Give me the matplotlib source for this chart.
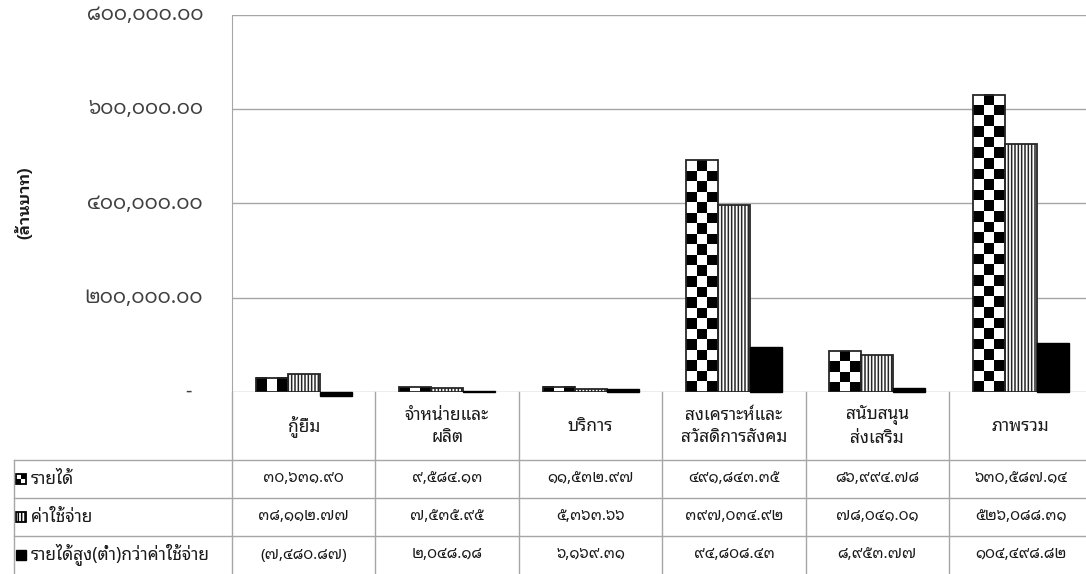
import numpy as np
import matplotlib
matplotlib.use("Agg")
import matplotlib.pyplot as plt
import matplotlib.transforms as mtrans

plt.rcParams['font.family'] = ['Noto Sans Thai Looped', 'DejaVu Sans']
plt.rcParams['hatch.linewidth'] = 1.1

categories = ['กู้ยืม', 'จำหน่ายและ\nผลิต', 'บริการ', 'สงเคราะห์และ\nสวัสดิการสังคม', 'สนับสนุน\nส่งเสริม', 'ภาพรวม']
series_names = ['รายได้', 'ค่าใช้จ่าย', 'รายได้สูง(ต่ำ)กว่าค่าใช้จ่าย']
income = [30631.90, 9584.13, 11532.97, 491843.35, 86994.78, 630587.14]
expense = [38112.77, 7535.95, 5363.66, 397034.92, 78041.01, 526088.31]
net = [-7480.87, 2048.18, 6169.31, 94808.43, 8953.77, 104498.82]
yticks = [0, 200000, 400000, 600000, 800000]

THAI_DIGITS = str.maketrans('0123456789', '๐๑๒๓๔๕๖๗๘๙')


def thai_num(v):
    s = '{:,.2f}'.format(abs(v)).translate(THAI_DIGITS)
    return '(' + s + ')' if v < 0 else s


W, H = 1086, 574
fig = plt.figure(figsize=(W / 100, H / 100), dpi=100)

# plot area in pixels
left, top, zero_y = 232, 15, 392
col_w = 143.4
ax = fig.add_axes([left / W, 1 - zero_y / H, col_w * 6 / W, (zero_y - top) / H])

grid_c = '#a6a6a6'
edge_c = '#262626'
x = np.arange(len(categories))
bw = 32 / col_w

# income bars with checker fill
px_per_unit = (zero_y - top) / 800000.0
for xi, v in zip(x, income):
    x0 = xi - bw * 1.5
    nrows = max(1, int(round(v * px_per_unit / 10.7)))
    board = (np.add.outer(np.arange(nrows), np.arange(3)) % 2).astype(float)
    ax.imshow(board, cmap='gray', vmin=0, vmax=1, interpolation='nearest',
              extent=(x0, x0 + bw, 0, v), aspect='auto', zorder=2, origin='lower')
ax.bar(x - bw, income, bw, facecolor='none', edgecolor=edge_c, linewidth=1.3, zorder=3)

# expense bars striped
ax.bar(x, expense, bw, facecolor='white', edgecolor=edge_c, hatch='|||||', linewidth=1.3, zorder=3)

# net bars solid
nb = ax.bar(x + bw, net, bw, facecolor='black', edgecolor='black', linewidth=1, zorder=3)
for p in nb:
    p.set_clip_on(False)

ax.set_xlim(-0.5, len(categories) - 0.5)
ax.set_ylim(0, 800000)
ax.set_yticks(yticks)
ax.yaxis.grid(True, color=grid_c, linewidth=1)
ax.set_axisbelow(True)
ax.set_xticks([])
ax.tick_params(axis='y', length=0, labelleft=False)
for s in ['top', 'right', 'bottom']:
    ax.spines[s].set_visible(False)
ax.spines['left'].set_color(grid_c)

# y tick labels
tr = mtrans.blended_transform_factory(fig.transFigure, ax.transData)
for t in yticks:
    lab = '-' if t == 0 else '{:,.2f}'.format(t).translate(THAI_DIGITS)
    xoff = 192 if t == 0 else 203
    ax.text(xoff / W, t, lab, transform=tr, ha='right', va='center',
            fontsize=14.5, color='#404040')

fig.text(23 / W, 1 - 203 / H, '(ล้านบาท)', rotation=90, ha='center', va='center',
         fontsize=11.5, fontweight='bold', color='#1a1a1a',
         family=['IBM Plex Sans Thai Looped', 'DejaVu Sans'])

# data table overlay (pixel coords)
ov = fig.add_axes([0, 0, 1, 1], zorder=5)
ov.set_xlim(0, W)
ov.set_ylim(H, 0)
ov.axis('off')

row_lines = [460, 498, 536]
col_edges = [left + col_w * k for k in range(len(categories) + 1)]
for y in row_lines:
    ov.plot([14, W], [y, y], color=grid_c, linewidth=1)
for cx in col_edges:
    ov.plot([cx, cx], [zero_y, H], color=grid_c, linewidth=1)
ov.plot([14, 14], [row_lines[0], H], color=grid_c, linewidth=1)

for k, c in enumerate(categories):
    cx = left + col_w * (k + 0.5)
    ov.text(cx, (zero_y + row_lines[0]) / 2, c, ha='center', va='center',
            fontsize=12.5, linespacing=1.25, color='#1a1a1a')

row_centers = [(row_lines[0] + row_lines[1]) / 2, (row_lines[1] + row_lines[2]) / 2,
               (row_lines[2] + H) / 2]
for r, (name, vals) in enumerate(zip(series_names, [income, expense, net])):
    cy = row_centers[r]
    ov.text(31, cy, name, ha='left', va='center', fontsize=12.5, color='#1a1a1a')
    for k, v in enumerate(vals):
        ov.text(left + col_w * (k + 0.5), cy, thai_num(v), ha='center', va='center',
                fontsize=11, color='#1a1a1a')

# legend keys
k0, ks = 16, 10
cy = row_centers[0]
ov.imshow(np.array([[1, 0], [0, 1.0]]), cmap='gray', vmin=0, vmax=1, interpolation='nearest',
          extent=(k0, k0 + ks, cy + ks / 2, cy - ks / 2), aspect='auto')
ov.add_patch(plt.Rectangle((k0, row_centers[0] - ks / 2), ks, ks, facecolor='none',
                           edgecolor='black', linewidth=1.3))
ov.add_patch(plt.Rectangle((k0, row_centers[1] - ks / 2), ks, ks, facecolor='white',
                           edgecolor='black', hatch='|||||', linewidth=1.3))
ov.add_patch(plt.Rectangle((k0, row_centers[2] - ks / 2), ks, ks, facecolor='black',
                           edgecolor='black', linewidth=1))
ov.set_xlim(0, W)
ov.set_ylim(H, 0)

fig.savefig('out.png', dpi=100)
